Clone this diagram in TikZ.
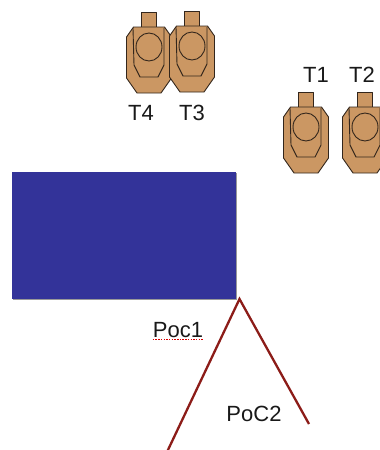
\documentclass[tikz,border=0pt]{standalone}
\usepackage{fontspec}
\setmainfont{Liberation Sans}
\definecolor{tan1}{HTML}{CB9763}
\definecolor{edge1}{HTML}{33261C}
\definecolor{blue1}{HTML}{333399}
\definecolor{red1}{HTML}{8C1C18}
\tikzset{
  lbl/.style={font=\fontsize{22}{24}\selectfont, text=black!90, inner sep=0pt, anchor=center},
  tgt/.style={fill=tan1, draw=edge1, line width=0.9pt, line join=round},
  tgtin/.style={draw=edge1, line width=0.9pt, line join=round},
  ray/.style={draw=red1, line width=2.3pt},
  target/.pic={
    \path[tgt] (-7.5,0) -- (7.5,0) -- (7.5,15) -- (-7.5,15) -- cycle;
    \path[tgt] (-15.5,15) -- (15.5,15) -- (22.5,25) -- (22.5,66) -- (12,81) -- (-12,81) -- (-22.5,66) -- (-22.5,25) -- cycle;
    \path[tgtin] (-16,16) -- (-15,53) -- (-9,65) -- (9,65) -- (15,53) -- (15,16);
    \path[tgtin] (0,35) ellipse [x radius=13, y radius=14];
  }
}
\begin{document}
\begin{tikzpicture}[x=1pt,y=-1pt]
\useasboundingbox (0,0) rectangle (380,450);
\node[fill=black!40, minimum width=224pt, minimum height=127pt, inner sep=0pt, anchor=north west] (shadow) at (12.8,172.8) {};
\node[fill=blue1, minimum width=224pt, minimum height=127pt, inner sep=0pt, anchor=north west] (block) at (12,172) {};
\pic at (149,12) {target};
\pic at (192,11) {target};
\pic at (306,92) {target};
\pic at (365,92) {target};
\node[lbl] (t4) at (141,113) {T4};
\node[lbl] (t3) at (192,113) {T3};
\node[lbl] (t1) at (316,75) {T1};
\node[lbl] (t2) at (362,75) {T2};
\node[lbl] (poc1) at (178,330) {Poc1};
\node[lbl] (poc2) at (254,414) {PoC2};
\coordinate (apex) at (239.5,299);
\coordinate (endA) at (167,452);
\coordinate (endB) at (309,424);
\draw[ray] (endA) -- (apex) -- (endB);
\draw[red!85!black, line width=1pt, dash pattern=on 1.5pt off 1.2pt] (poc1.south west |- 0,339) -- (poc1.south east |- 0,339);
\end{tikzpicture}
\end{document}
